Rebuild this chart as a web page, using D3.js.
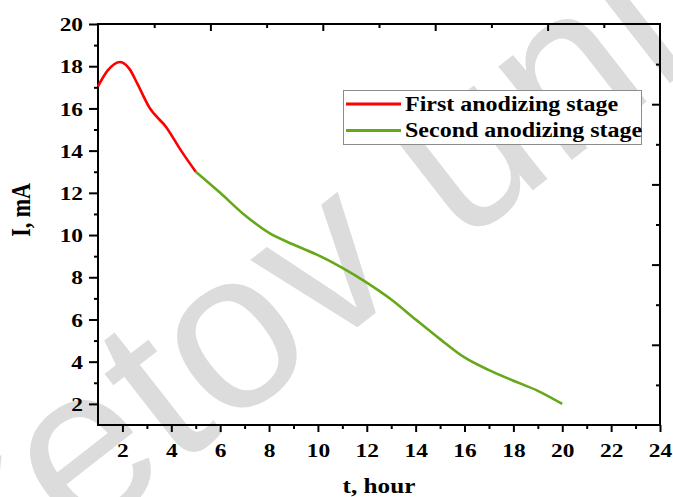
<!DOCTYPE html>
<html>
<head>
<meta charset="utf-8">
<script src="https://cdn.jsdelivr.net/npm/d3@7"></script>
<style>
  body { margin: 0; background: #fff; }
  svg { display: block; }
  text { font-family: "Liberation Serif", "Times New Roman", serif; font-weight: bold; fill: #000; }
</style>
</head>
<body>
<div id="chart"></div>
<script>
// data
const firstT = [1, 1.4, 1.9, 2.3, 2.6, 3.1, 3.8, 4.4, 5];
const firstI = [17.05, 17.8, 18.2, 17.85, 17.2, 16.05, 15.1, 14.0, 13.0];
const secondT = [5, 6, 7, 8, 9, 10, 11, 12, 13, 14, 15, 16, 17, 18, 19, 20];
const secondI = [13.0, 12.0, 10.95, 10.1, 9.55, 9.05, 8.45, 7.75, 6.95, 6.0, 5.07, 4.2, 3.6, 3.1, 2.62, 2.0];
const xTicks = [2, 4, 6, 8, 10, 12, 14, 16, 18, 20, 22, 24];
const xMinor = [3, 5, 7, 9, 11, 13, 15, 17, 19, 21, 23];
const yTicks = [2, 4, 6, 8, 10, 12, 14, 16, 18, 20];
const yMinor = [3, 5, 7, 9, 11, 13, 15, 17, 19];
const seriesNames = ["First anodizing stage", "Second anodizing stage"];
const seriesColors = ["#ff0000", "#66a81a"];

const width = 673, height = 497;
const plot = { left: 98, right: 660, top: 24, bottom: 425 };
const SX = 1.2; // the scan is stretched sideways

const svg = d3.select("#chart").append("svg")
  .attr("width", width)
  .attr("height", height);

// faint watermark behind everything
const wmSize = 225;
const wm = svg.append("g")
  .attr("transform", "translate(90,462) rotate(-38)");
wm.append("text")
  .attr("x", -(1.723 + 0.28) * wmSize)
  .attr("y", 0.26 * wmSize)
  .style("font-family", "'Liberation Sans', Arial, sans-serif")
  .style("font-weight", "normal")
  .style("font-size", wmSize + "px")
  .style("fill", "#dcdcdc")
  .text("Buketov university");

const x = d3.scaleLinear().domain([1, 24]).range([plot.left, plot.right]);
const y = d3.scaleLinear().domain([1, 20]).range([plot.bottom, plot.top]);
// top and right axes in Origin carry their own 0..1 scale
const xTop = d3.scaleLinear().domain([0, 1]).range([plot.left, plot.right]);
const yRight = d3.scaleLinear().domain([0, 1]).range([plot.bottom, plot.top]);

const styleAxis = (g) => {
  g.select(".domain").remove();
  g.selectAll("line").attr("stroke", "#000").attr("stroke-width", 2);
};

// bottom axis
const bottomAxis = svg.append("g")
  .attr("transform", `translate(0,${plot.bottom})`)
  .call(d3.axisBottom(x).tickValues(xTicks).tickSize(7).tickFormat(d3.format("d")))
  .call(styleAxis);
bottomAxis.selectAll("text")
  .attr("y", 32).attr("dy", 0)
  .attr("transform", `scale(${SX},1)`)
  .style("font-size", "19.5px");
svg.append("g")
  .attr("transform", `translate(0,${plot.bottom})`)
  .call(d3.axisBottom(x).tickValues(xMinor).tickSize(4).tickFormat(""))
  .call(styleAxis);

// left axis
const leftAxis = svg.append("g")
  .attr("transform", `translate(${plot.left},0)`)
  .call(d3.axisLeft(y).tickValues(yTicks).tickSize(9).tickFormat(d3.format("d")))
  .call(styleAxis);
leftAxis.selectAll("text")
  .attr("x", -15 / SX)
  .attr("dy", "0.34em")
  .attr("transform", `scale(${SX},1)`)
  .style("font-size", "19.5px");
svg.append("g")
  .attr("transform", `translate(${plot.left},0)`)
  .call(d3.axisLeft(y).tickValues(yMinor).tickSize(4).tickFormat(""))
  .call(styleAxis);

// top axis, ticks inward
svg.append("g")
  .attr("transform", `translate(0,${plot.top})`)
  .call(d3.axisBottom(xTop).tickValues([0.2, 0.4, 0.6, 0.8]).tickSize(7).tickFormat(""))
  .call(styleAxis);
svg.append("g")
  .attr("transform", `translate(0,${plot.top})`)
  .call(d3.axisBottom(xTop).tickValues([0.1, 0.3, 0.5, 0.7, 0.9]).tickSize(4).tickFormat(""))
  .call(styleAxis);

// right axis, ticks inward
svg.append("g")
  .attr("transform", `translate(${plot.right},0)`)
  .call(d3.axisLeft(yRight).tickValues([0.2, 0.4, 0.6, 0.8]).tickSize(8).tickFormat(""))
  .call(styleAxis);
svg.append("g")
  .attr("transform", `translate(${plot.right},0)`)
  .call(d3.axisLeft(yRight).tickValues([0.1, 0.3, 0.5, 0.7, 0.9]).tickSize(4).tickFormat(""))
  .call(styleAxis);

// frame
svg.append("rect")
  .attr("x", plot.left).attr("y", plot.top)
  .attr("width", plot.right - plot.left)
  .attr("height", plot.bottom - plot.top)
  .attr("fill", "none")
  .attr("stroke", "#000")
  .attr("stroke-width", 2);

// curves
const line = d3.line()
  .x((d) => x(d[0]))
  .y((d) => y(d[1]))
  .curve(d3.curveMonotoneX);

const series = [
  d3.zip(firstT, firstI),
  d3.zip(secondT, secondI),
];

svg.selectAll(".curve")
  .data(series)
  .enter()
  .append("path")
  .attr("class", "curve")
  .attr("d", line)
  .attr("fill", "none")
  .attr("stroke", (d, i) => seriesColors[i])
  .attr("stroke-width", 2.6)
  .attr("stroke-linejoin", "round");

// axis titles
svg.append("text")
  .attr("transform", `translate(${(plot.left + plot.right) / 2},493) scale(${SX},1)`)
  .attr("text-anchor", "middle")
  .style("font-size", "21px")
  .text("t, hour");

svg.append("text")
  .attr("transform", "translate(30,210) rotate(-90) scale(1,1.2)")
  .attr("text-anchor", "middle")
  .style("font-size", "22px")
  .text("I, mA");

// legend
const legend = svg.append("g");
legend.append("rect")
  .attr("x", 343.5).attr("y", 90.5)
  .attr("width", 298).attr("height", 54)
  .attr("fill", "#fff")
  .attr("stroke", "#8c8c8c")
  .attr("stroke-width", 1);

const legendRows = legend.selectAll(".row")
  .data(seriesNames)
  .enter()
  .append("g")
  .attr("class", "row")
  .attr("transform", (d, i) => `translate(0,${104 + i * 26.5})`);

legendRows.append("line")
  .attr("x1", 346).attr("x2", 401)
  .attr("stroke", (d, i) => seriesColors[i])
  .attr("stroke-width", 3);

legendRows.append("text")
  .attr("transform", `translate(405,6.5) scale(${SX},1)`)
  .style("font-size", "20px")
  .text((d) => d);
</script>
</body>
</html>
